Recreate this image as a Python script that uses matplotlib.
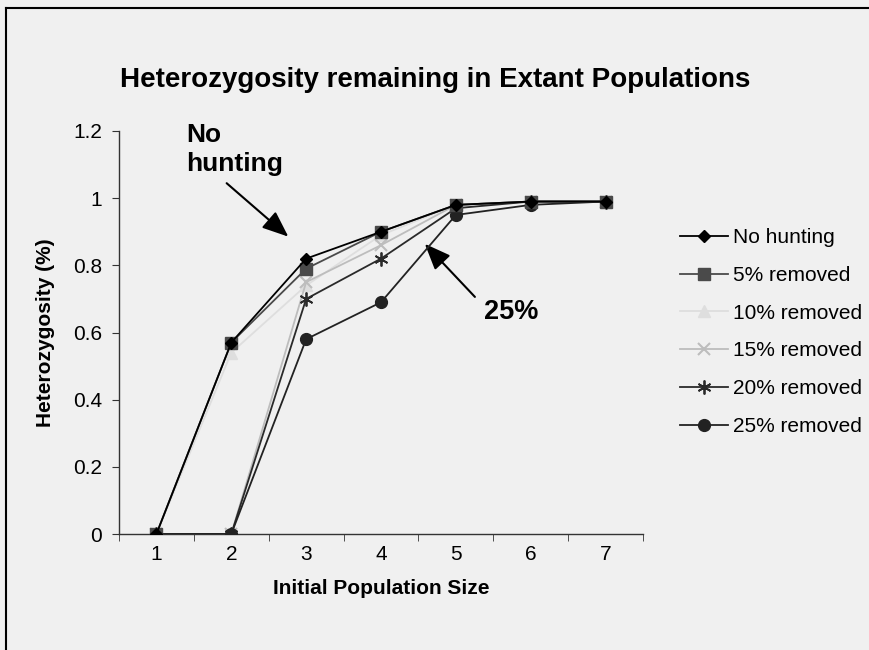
import matplotlib
matplotlib.use("Agg")
from matplotlib import pyplot as plt
from matplotlib.lines import Line2D

plt.rcParams['font.family'] = ['Liberation Sans', 'DejaVu Sans']

# Initial population size categories
pop_size = [1, 2, 3, 4, 5, 6, 7]

# Heterozygosity remaining for each hunting level
no_hunting = [0, 0.57, 0.82, 0.90, 0.98, 0.99, 0.99]
removed_5 = [0, 0.57, 0.79, 0.90, 0.98, 0.99, 0.99]
removed_10 = [0, 0.54, 0.74, 0.89, 0.98, 0.99, 0.99]
removed_15 = [0, 0, 0.75, 0.86, 0.98, 0.99, 0.99]
removed_20 = [0, 0, 0.70, 0.82, 0.97, 0.99, 0.99]
removed_25 = [0, 0, 0.58, 0.69, 0.95, 0.98, 0.99]

labels = ["No hunting", "5% removed", "10% removed", "15% removed",
          "20% removed", "25% removed"]

bg = "#f0f0f0"
fig = plt.figure(figsize=(8.7, 6.5), dpi=100, facecolor=bg)
ax = fig.add_axes([119 / 870, 1 - 534 / 650, (643 - 119) / 870, (534 - 131) / 650])
ax.set_facecolor(bg)

# frame around the chart area (top and left edges visible)
fig.add_artist(Line2D([6 / 870, 6 / 870], [0, 1 - 8 / 650], color="black", lw=1.5))
fig.add_artist(Line2D([6 / 870, 1], [1 - 8 / 650, 1 - 8 / 650], color="black", lw=1.5))

ax.plot(pop_size, no_hunting, color="#000000", marker="D", ms=6.5, lw=1.3, label=labels[0], zorder=8)
ax.plot(pop_size, removed_5, color="#4a4a4a", marker="s", ms=8.5, lw=1.3, label=labels[1], zorder=7)
ax.plot(pop_size, removed_10, color="#dedede", marker="^", ms=9, lw=1.3, label=labels[2], zorder=3)
ax.plot(pop_size, removed_15, color="#bdbdbd", marker="x", ms=8.5, mew=1.5, lw=1.3, label=labels[3], zorder=4)
ax.plot(pop_size, removed_20, color="#2a2a2a", marker=(6, 2, 0), ms=10, mew=1.3, lw=1.3, label=labels[4], zorder=5)
ax.plot(pop_size, removed_25, color="#222222", marker="o", ms=8.5, lw=1.3, label=labels[5], zorder=6)

ax.set_xlim(0.5, 7.5)
ax.set_ylim(0, 1.2)
ax.set_xticks(pop_size)
ax.set_xticklabels([str(p) for p in pop_size])
ax.set_xticks([p + 0.5 for p in [0] + pop_size], minor=True)
ax.tick_params(axis="x", which="major", length=0, pad=8, labelsize=15)
ax.tick_params(axis="x", which="minor", length=5, direction="out", color="#333333")
ax.set_yticks([0, 0.2, 0.4, 0.6, 0.8, 1.0, 1.2])
ax.set_yticklabels(["0", "0.2", "0.4", "0.6", "0.8", "1", "1.2"])
ax.tick_params(axis="y", length=5, direction="out", pad=7, labelsize=15, color="#333333")

for s in ["top", "right"]:
    ax.spines[s].set_visible(False)
for s in ["left", "bottom"]:
    ax.spines[s].set_color("#333333")
    ax.spines[s].set_linewidth(1.0)

ax.set_xlabel("Initial Population Size", fontsize=15, fontweight="bold", labelpad=11)
ax.set_ylabel("Heterozygosity (%)", fontsize=15, fontweight="bold", labelpad=13)

fig.text(435 / 870, 1 - 80 / 650, "Heterozygosity remaining in Extant Populations",
         ha="center", va="center", fontsize=20, fontweight="bold")

# annotations
ax.text(1.40, 1.145, "No\nhunting", fontsize=19, fontweight="bold", ha="left", va="center",
        linespacing=1.23)
ax.annotate("", xy=(2.79, 0.88), xytext=(1.91, 1.05),
            arrowprops=dict(arrowstyle="-|>,head_length=1.6,head_width=0.65", color="black", lw=1.5))
ax.text(5.37, 0.66, "25%", fontsize=19.5, fontweight="bold", ha="left", va="center")
ax.annotate("", xy=(4.56, 0.87), xytext=(5.28, 0.70),
            arrowprops=dict(arrowstyle="-|>,head_length=1.6,head_width=0.65", color="black", lw=1.5))

fig.legend(loc="center left", bbox_to_anchor=(680 / 870, 1 - 332 / 650), frameon=False,
           fontsize=15, handlelength=2.3, labelspacing=0.9, handletextpad=0.25,
           borderpad=0, borderaxespad=0)

fig.savefig("out.png", dpi=100, facecolor=bg)
